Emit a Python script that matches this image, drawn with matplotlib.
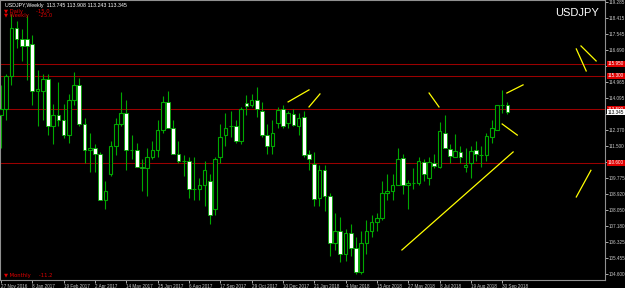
import matplotlib
matplotlib.use("Agg")
import matplotlib.pyplot as plt
import numpy as np

# weekly USDJPY candles, 27 Nov 2016 .. 7 Oct 2018
opens = [113.2, 113.5, 115.3, 117.9, 117.3, 117.3, 117.0, 114.5, 114.5, 115.1,
         112.6, 113.2, 112.9, 112.1, 114.0, 114.8, 112.7, 111.3, 111.4, 111.1,
         108.6, 110.0, 111.5, 112.7, 113.3, 111.3, 111.3, 110.4, 110.3, 110.9,
         111.3, 112.4, 113.9, 112.5, 111.1, 110.7, 110.7, 109.2, 109.2, 109.4,
         109.6, 108.1, 110.9, 112.1, 112.6, 112.6, 111.8, 113.85, 113.7, 114.0,
         113.4, 112.1, 111.5, 112.75, 113.5, 112.75, 113.25, 112.6, 113.1, 111.1,
         110.55, 108.7, 110.2, 108.8, 106.3, 106.9, 105.7, 106.8, 106.0, 104.7,
         106.3, 106.9, 107.4, 107.6, 109.0, 109.1, 109.4, 110.85, 109.4, 109.5,
         109.5, 110.65, 109.8, 110.6, 110.4, 112.2, 111.35, 110.9, 111.2, 110.4,
         110.6, 111.3, 111.0, 111.0, 112.0, 112.4, 113.7, 113.745]
highs = [114.8, 115.4, 118.66, 118.25, 117.8, 118.6, 117.5, 115.6, 115.4, 115.4,
         113.8, 114.95, 113.8, 114.3, 115.5, 115.2, 113.0, 112.2, 111.6, 111.2,
         109.6, 111.8, 113.0, 114.4, 114.0, 112.1, 111.7, 110.8, 111.4, 111.8,
         112.9, 114.2, 114.5, 112.9, 111.8, 111.0, 110.9, 110.9, 109.8, 110.7,
         110.0, 110.9, 112.7, 113.3, 113.4, 112.9, 113.6, 114.25, 114.3, 114.7,
         113.9, 112.7, 112.9, 113.6, 113.75, 113.4, 113.5, 113.3, 113.4, 111.3,
         111.2, 110.5, 110.5, 109.0, 107.9, 107.7, 107.05, 107.3, 106.6, 106.9,
         107.5, 107.8, 107.9, 109.6, 110.0, 110.0, 111.4, 111.1, 109.7, 110.3,
         110.9, 110.8, 110.9, 111.1, 112.8, 113.2, 111.6, 112.15, 111.5, 111.4,
         111.5, 111.8, 111.5, 112.2, 112.9, 113.7, 114.55, 113.908]
lows = [111.4, 112.9, 114.8, 116.8, 116.1, 115.05, 113.75, 112.6, 112.9, 112.1,
        111.6, 112.6, 111.95, 111.7, 113.7, 112.6, 110.6, 110.1, 110.1, 108.7,
        108.1, 109.9, 111.0, 112.6, 110.2, 110.8, 110.4, 109.1, 108.8, 110.8,
        110.9, 112.2, 112.5, 111.1, 110.6, 109.9, 108.7, 108.6, 108.6, 108.3,
        107.3, 107.8, 110.6, 111.5, 112.0, 111.7, 111.6, 113.2, 113.6, 113.1,
        112.0, 111.1, 111.1, 112.5, 112.5, 112.5, 112.6, 112.1, 110.9, 110.2,
        108.3, 108.3, 108.0, 105.55, 105.9, 105.25, 105.3, 105.6, 104.6, 104.6,
        105.7, 106.6, 106.9, 107.5, 108.6, 108.6, 109.4, 108.9, 108.1, 109.2,
        109.4, 109.6, 109.4, 110.3, 110.3, 111.4, 110.6, 110.9, 110.6, 110.1,
        109.8, 110.7, 110.4, 110.7, 111.7, 112.5, 113.3, 113.243]
closes = [113.5, 115.3, 117.9, 117.3, 116.9, 116.9, 114.5, 114.6, 115.1, 112.6,
          113.2, 112.9, 112.1, 114.0, 114.8, 112.7, 111.3, 111.4, 111.1, 108.6,
          109.1, 111.5, 112.7, 113.3, 111.3, 111.3, 110.4, 110.3, 110.9, 111.3,
          112.4, 113.9, 112.5, 111.1, 110.7, 110.7, 109.2, 109.2, 109.4, 110.2,
          107.8, 110.8, 112.0, 112.5, 112.6, 111.8, 113.5, 113.65, 114.0, 113.5,
          112.1, 111.5, 112.2, 113.45, 112.6, 113.3, 112.65, 113.0, 111.0, 110.8,
          108.65, 110.2, 108.8, 106.3, 106.9, 105.7, 106.8, 106.0, 104.7, 106.3,
          106.9, 107.4, 107.6, 109.0, 109.1, 109.4, 110.8, 109.4, 109.5, 109.5,
          110.7, 110.0, 110.65, 110.45, 112.3, 111.4, 110.95, 111.25, 110.9, 110.5,
          111.25, 111.1, 111.05, 112.05, 112.5, 113.7, 113.75, 113.345]

x_labels = ["27 Nov 2016", "8 Jan 2017", "19 Feb 2017", "2 Apr 2017", "14 May 2017",
            "25 Jun 2017", "6 Aug 2017", "17 Sep 2017", "29 Oct 2017", "10 Dec 2017",
            "21 Jan 2018", "4 Mar 2018", "15 Apr 2018", "27 May 2018", "8 Jul 2018",
            "19 Aug 2018", "30 Sep 2018"]
y_ticks = [104.600, 105.455, 106.325, 107.180, 108.050, 108.920, 109.775, 110.640,
           111.500, 112.370, 113.235, 114.095, 114.965, 115.830, 116.690, 117.545,
           118.415, 119.285]

# horizontal levels and hand-drawn trend lines (week index, price)
levels = [115.95, 115.30, 113.50, 110.60]
trend_x = [(55.0, 59.0), (59.0, 61.1), (82.0, 83.9), (96.9, 100.0), (96.0, 98.9),
           (76.8, 98.1), (110.2, 112.1), (111.1, 114.0), (110.2, 113.0)]
trend_y = [(113.89, 114.54), (113.62, 114.32), (114.37, 113.62), (114.37, 114.81),
           (112.70, 112.10), (105.90, 111.19), (116.75, 115.56), (116.91, 116.10),
           (108.76, 110.20)]

green = "#00a800"
fs = 3.3
fig = plt.figure(figsize=(6.25, 2.88), dpi=100, facecolor="black")
ax = fig.add_axes([0.0, 8 / 288, 605 / 625, 280 / 288], facecolor="black")

idx = np.arange(len(opens))
o = np.array(opens); c = np.array(closes)
ax.vlines(idx, lows, highs, color=green, linewidth=0.8, zorder=2)
bull = c >= o
ax.bar(idx[bull], c[bull] - o[bull], bottom=o[bull], width=0.7, color="black",
       edgecolor=green, linewidth=0.8, zorder=3)
ax.bar(idx[~bull], o[~bull] - c[~bull], bottom=c[~bull], width=0.7, color="white",
       edgecolor=green, linewidth=0.6, zorder=3)

for lv in levels:
    ax.axhline(lv, color="#9a0000", linewidth=0.75, zorder=1)
for tx, ty in zip(trend_x, trend_y):
    ax.plot(tx, ty, color="#ffff00", linewidth=0.9, zorder=4)

ax.set_xlim(-0.19, 115.7)
ax.set_ylim(104.28, 119.39)

for s in ax.spines.values():
    s.set_color("#909090")
    s.set_linewidth(0.8)

# tick labels hidden behind the price labels, as on the terminal
marks = levels + [closes[-1]]
shown = [v if min(abs(v - m) for m in marks) > 0.3 else None for v in y_ticks]
ax.yaxis.tick_right()
ax.set_yticks(y_ticks)
ax.set_yticklabels(["" if s is None else f"{s:.3f}" for s in shown])
ax.set_xticks(np.arange(0, 6 * len(x_labels), 6))
ax.set_xticklabels(x_labels, ha="left")
ax.tick_params(colors="#c8c8c8", labelsize=fs, length=2, width=0.6, pad=0.8)
for lab in ax.get_xticklabels() + ax.get_yticklabels():
    lab.set_fontfamily("Liberation Sans")

# price labels on the axis
for lv in levels:
    ax.text(1.005, lv, f"{lv:.3f}", transform=ax.get_yaxis_transform(), fontsize=fs,
            color="white", va="center", ha="left", family="Liberation Sans",
            bbox=dict(facecolor="#e00000", edgecolor="none", pad=0.5))
ax.text(1.005, closes[-1], f"{closes[-1]:.3f}", transform=ax.get_yaxis_transform(),
        fontsize=fs, color="black", va="center", ha="left", family="Liberation Sans",
        bbox=dict(facecolor="white", edgecolor="none", pad=0.5))

fig.text(5 / 625, 1 - 6 / 288, f"USDJPY,Weekly  {opens[-1]:.3f} {highs[-1]:.3f} {lows[-1]:.3f} {closes[-1]:.3f}",
         color="white", fontsize=3.8, va="center", family="Liberation Sans")
fig.text(4 / 625, 1 - 11 / 288, "\u25bc Daily        -15.0", color="#e00000", fontsize=3.8,
         va="center", family="DejaVu Sans")
fig.text(4 / 625, 1 - 16 / 288, "\u25bc Weekly      -25.0", color="#e00000", fontsize=3.8,
         va="center", family="DejaVu Sans")
fig.text(4 / 625, 1 - 276 / 288, "\u25bc Monthly     -11.2", color="#e00000", fontsize=3.8,
         va="center", family="DejaVu Sans")
fig.text(599 / 625, 1 - 13 / 288, "USDJPY", color="white", fontsize=8, ha="right",
         va="center", family="Liberation Sans")

fig.savefig("out.png", dpi=100, facecolor="black")
